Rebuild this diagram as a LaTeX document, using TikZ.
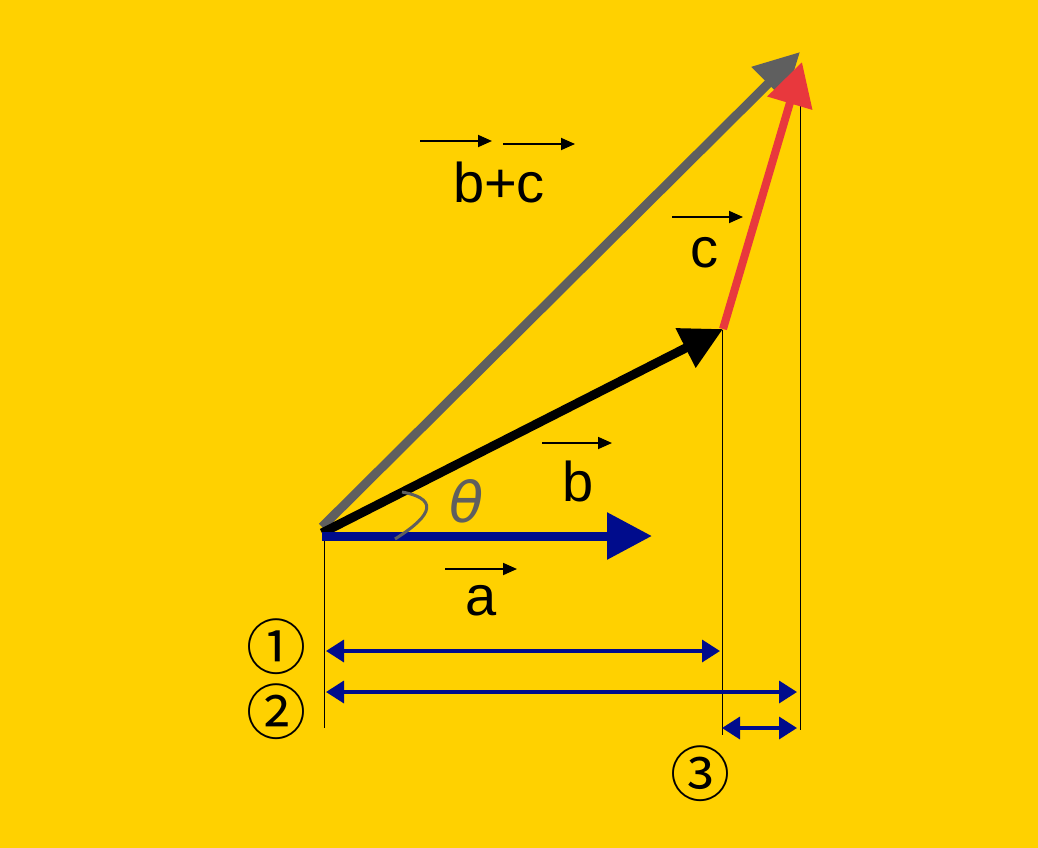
\documentclass[tikz,border=0pt]{standalone}
\usepackage{fontspec}
\setmainfont{Liberation Sans}
\newfontfamily\symfont{DejaVu Sans}
\newfontfamily\cjkfont{Noto Sans CJK JP}
\usetikzlibrary{arrows.meta}
\definecolor{bgyellow}{RGB}{255,209,0}
\definecolor{vnavy}{RGB}{0,12,140}
\definecolor{vred}{RGB}{232,56,61}
\definecolor{vgray}{RGB}{95,95,95}
\tikzset{
  vec/.style={line width=9pt},
  thinline/.style={line width=1pt, black},
  dim/.style={line width=3.5pt, vnavy, {Triangle[length=18pt,width=22pt]}-{Triangle[length=18pt,width=22pt]}},
  lbl/.style={font=\fontsize{56}{60}\selectfont, inner sep=0pt},
  circ/.style={font=\cjkfont\fontsize{60}{64}\selectfont, inner sep=0pt},
  overarrow/.style={line width=1.8pt, black, -{Triangle[length=14pt,width=12pt]}},
}
\begin{document}
\begin{tikzpicture}[x=1pt,y=-1pt]
\fill[bgyellow] (0,0) rectangle (1038,848);
\useasboundingbox (0,0) rectangle (1038,848);
% points
\coordinate (O) at (322,533);
\coordinate (Og) at (322,527);
\coordinate (Ob) at (322,536);
\coordinate (A) at (652,536);
\coordinate (B) at (723,329);
\coordinate (C) at (802,62);
\coordinate (G) at (800,52);
% thin vertical lines
\coordinate (v1t) at (324,533); \coordinate (v1b) at (324,728);
\coordinate (v2t) at (722,330); \coordinate (v2b) at (722,735);
\coordinate (v3t) at (800,75);  \coordinate (v3b) at (800,730);
\draw[thinline] (v1t) -- (v1b);
\draw[thinline] (v2t) -- (v2b);
\draw[thinline] (v3t) -- (v3b);
% vectors
\draw[vec, vgray, -{Triangle[length=45pt,width=45pt]}] (Og) -- (G);
\draw[vec, vred, line width=8pt, -{Triangle[length=43pt,width=45pt]}] (B) -- (C);
\draw[vec, black, -{Triangle[length=42pt,width=42pt]}] (O) -- (B);
\draw[vec, vnavy, -{Triangle[length=45pt,width=45pt]}] (Ob) -- (A);
% angle mark
\coordinate (t1) at (402,492);
\coordinate (t2) at (395,539);
\draw[vgray, line width=3pt] (t1) .. controls (445,500) and (425,520) .. (t2);
\node[lbl, text=vgray] (theta) at (467,501) {\symfont\itshape θ};
% dimension lines
\coordinate (d1a) at (326,651); \coordinate (d1b) at (720,651);
\coordinate (d2a) at (326,692); \coordinate (d2b) at (797,692);
\coordinate (d3a) at (722,728); \coordinate (d3b) at (797,728);
\draw[dim] (d1a) -- (d1b);
\draw[dim] (d2a) -- (d2b);
\draw[dim] (d3a) -- (d3b);
% circled numbers
\node[circ] (n1) at (276,647) {①};
\node[circ] (n2) at (276,712) {②};
\node[circ] (n3) at (700,774) {③};
% labels
\node[lbl] (la) at (481,601) {a};
\coordinate (aa1) at (445,569); \coordinate (aa2) at (517,569);
\draw[overarrow] (aa1) -- (aa2);
\node[lbl] (lb) at (578,481) {b};
\coordinate (ba1) at (542,443); \coordinate (ba2) at (612,443);
\draw[overarrow] (ba1) -- (ba2);
\node[lbl] (lc) at (704,253) {c};
\coordinate (ca1) at (672,217); \coordinate (ca2) at (743,217);
\draw[overarrow] (ca1) -- (ca2);
\node[lbl] (lbc) at (499,182) {b+c};
\coordinate (bca1) at (420,141); \coordinate (bca2) at (492,141);
\coordinate (bcb1) at (503,144); \coordinate (bcb2) at (575,144);
\draw[overarrow] (bca1) -- (bca2);
\draw[overarrow] (bcb1) -- (bcb2);
\end{tikzpicture}
\end{document}
